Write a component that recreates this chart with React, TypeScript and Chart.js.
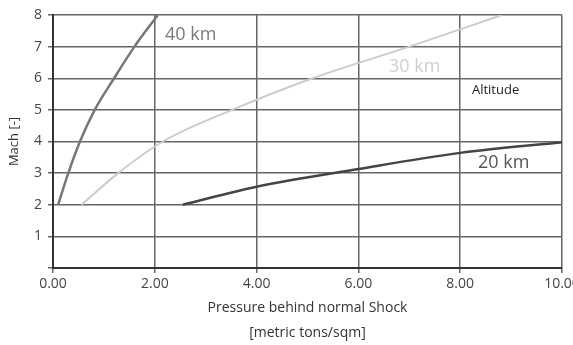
import React, { useEffect, useRef } from "react";
import { Chart, registerables } from "chart.js";

Chart.register(...registerables);

const km40X = [0.1, 0.3, 0.53, 0.82, 1.2, 1.6, 2.06];
const km40Y = [2, 3, 4, 5, 6, 7, 8];
const km30X = [0.56, 1.28, 2.16, 3.52, 5.1, 7.0, 8.82];
const km30Y = [2, 3, 4, 5, 6, 7, 8];
const km20X = [2.55, 4, 6, 8, 10];
const km20Y = [2, 2.57, 3.13, 3.64, 3.98];

const xTicks = [0, 2, 4, 6, 8, 10];
const yTicks = [0, 1, 2, 3, 4, 5, 6, 7, 8];

const labels = [
  { text: "40 km", x: 2.2, y: 7.37, color: "#7a7a7a", size: 18, weight: "normal" },
  { text: "30 km", x: 6.6, y: 6.36, color: "#cfcfcf", size: 18, weight: "normal" },
  { text: "Altitude", x: 8.23, y: 5.63, color: "#222222", size: 13, weight: "500" },
  { text: "20 km", x: 8.35, y: 3.32, color: "#555555", size: 18, weight: "normal" },
];

const FONT = "'Open Sans', 'Noto Sans', sans-serif";

const pts = (xs: number[], ys: number[]) => xs.map((x, i) => ({ x, y: ys[i] }));

const labelPlugin = {
  id: "curveLabels",
  afterDatasetsDraw(chart: any) {
    const { ctx, scales } = chart;
    ctx.save();
    labels.forEach((l) => {
      ctx.font = `${l.weight} ${l.size}px ${FONT}`;
      ctx.fillStyle = l.color;
      ctx.textAlign = "left";
      ctx.textBaseline = "middle";
      ctx.fillText(l.text, scales.x.getPixelForValue(l.x), scales.y.getPixelForValue(l.y));
    });
    ctx.restore();
  },
};

export default function App() {
  const ref = useRef<HTMLCanvasElement>(null);
  useEffect(() => {
    if (!ref.current) return;
    const chart = new Chart(ref.current, {
      type: "line",
      data: {
        datasets: [
          { label: "40 km", data: pts(km40X, km40Y), borderColor: "#777777", borderWidth: 2.5, pointRadius: 0, cubicInterpolationMode: "monotone", fill: false },
          { label: "30 km", data: pts(km30X, km30Y), borderColor: "#cccccc", borderWidth: 2, pointRadius: 0, cubicInterpolationMode: "monotone", fill: false },
          { label: "20 km", data: pts(km20X, km20Y), borderColor: "#444444", borderWidth: 2.5, pointRadius: 0, cubicInterpolationMode: "monotone", fill: false },
        ],
      },
      options: {
        animation: false,
        responsive: false,
        maintainAspectRatio: false,
        layout: { padding: { top: 15, right: 38, left: 0, bottom: 0 } },
        plugins: { legend: { display: false }, tooltip: { enabled: false } },
        scales: {
          x: {
            type: "linear",
            min: 0,
            max: 10,
            afterFit: (s: any) => { s.height = 77; },
            afterBuildTicks: (s: any) => { s.ticks = xTicks.map((v) => ({ value: v })); },
            ticks: {
              callback: (v: any) => Number(v).toFixed(2),
              color: "#444444",
              font: { family: FONT, size: 14 },
              padding: 3,
              maxRotation: 0,
            },
            grid: { color: "#666666", lineWidth: 1.5, tickLength: 5, tickColor: "#666666" },
            border: { color: "#333333", width: 2 },
            title: {
              display: true,
              text: ["Pressure behind normal Shock", "[metric tons/sqm]"],
              color: "#333333",
              font: { family: FONT, size: 14, lineHeight: 1.75 },
              padding: { top: 0, bottom: 0 },
            },
          },
          y: {
            type: "linear",
            min: 0,
            max: 8,
            afterFit: (s: any) => { s.width = 53; },
            afterBuildTicks: (s: any) => { s.ticks = yTicks.map((v) => ({ value: v })); },
            ticks: {
              callback: (v: any) => (Number(v) === 0 ? "" : String(v)),
              color: "#444444",
              font: { family: FONT, size: 14, weight: "500" },
              padding: 6,
            },
            grid: { color: "#666666", lineWidth: 1.5, tickLength: 5, tickColor: "#666666" },
            border: { color: "#333333", width: 2 },
            title: {
              display: true,
              text: "Mach [-]",
              color: "#333333",
              font: { family: FONT, size: 13, weight: "500" },
              padding: { top: 6, bottom: 0 },
            },
          },
        },
      },
      plugins: [labelPlugin],
    } as any);
    return () => chart.destroy();
  }, []);
  return (
    <div style={{ position: "fixed", left: 0, top: 0, width: 573, height: 345, overflow: "hidden", background: "#fff" }}>
      <canvas ref={ref} width={600} height={345} style={{ display: "block", width: 600, height: 345 }} />
    </div>
  );
}
